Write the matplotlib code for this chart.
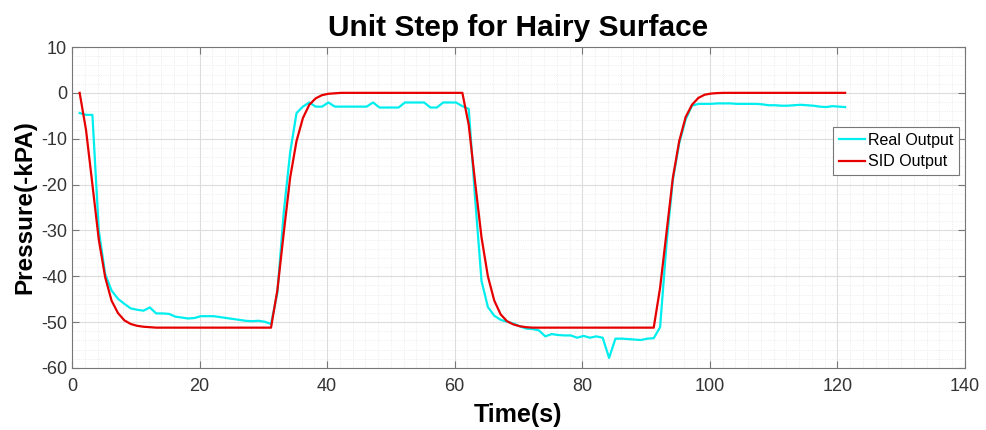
import numpy as np
import matplotlib
matplotlib.use('Agg')
from matplotlib import pyplot as plt
from matplotlib.ticker import MultipleLocator

# Data
# --------------------------------------------------------------------------
# sample time (s), one sample per second
t_start = 1.2
# Real Output (measured pressure, -kPa)
real_output = [
    -4.4, -4.8, -4.8, -30.0, -39.5, -43.1, -44.9, -46.0, -47.0, -47.3,
    -47.5, -46.8, -48.1, -48.1, -48.2, -48.8, -49.0, -49.2, -49.1, -48.7,
    -48.7, -48.7, -48.9, -49.1, -49.3, -49.5, -49.7, -49.8, -49.7, -49.9,
    -50.4, -43.6, -26.0, -13.0, -4.4, -3.0, -2.1, -3.0, -3.0, -2.1,
    -3.0, -3.0, -3.0, -3.0, -3.0, -3.0, -2.1, -3.2, -3.2, -3.2,
    -3.2, -2.1, -2.1, -2.1, -2.1, -3.2, -3.2, -2.1, -2.1, -2.1,
    -2.9, -3.5, -23.0, -41.0, -46.7, -48.6, -49.5, -49.9, -50.3, -50.9,
    -51.4, -51.5, -51.8, -53.1, -52.6, -52.8, -52.9, -52.9, -53.4, -53.0,
    -53.4, -53.1, -53.4, -57.8, -53.6, -53.6, -53.7, -53.8, -53.9, -53.6,
    -53.5, -51.1, -33.0, -19.0, -11.0, -5.8, -2.8, -2.4, -2.4, -2.4,
    -2.3, -2.3, -2.3, -2.4, -2.4, -2.4, -2.4, -2.5, -2.7, -2.7,
    -2.8, -2.8, -2.7, -2.6, -2.7, -2.8, -3.0, -3.1, -2.9, -3.0,
    -3.1,
]
# SID Output (identified model response, -kPa)
sid_output = [
    0.0, -8.1, -20.0, -32.0, -40.2, -45.3, -48.0, -49.6, -50.4, -50.8,
    -51.0, -51.1, -51.2, -51.2, -51.2, -51.2, -51.2, -51.2, -51.2, -51.2,
    -51.2, -51.2, -51.2, -51.2, -51.2, -51.2, -51.2, -51.2, -51.2, -51.2,
    -51.2, -43.0, -30.5, -18.5, -10.5, -5.5, -2.6, -1.2, -0.5, -0.2,
    -0.1, 0.0, 0.0, 0.0, 0.0, 0.0, 0.0, 0.0, 0.0, 0.0,
    0.0, 0.0, 0.0, 0.0, 0.0, 0.0, 0.0, 0.0, 0.0, 0.0,
    0.0, -7.0, -19.5, -31.5, -40.0, -45.3, -48.3, -49.8, -50.5, -50.9,
    -51.1, -51.2, -51.2, -51.2, -51.2, -51.2, -51.2, -51.2, -51.2, -51.2,
    -51.2, -51.2, -51.2, -51.2, -51.2, -51.2, -51.2, -51.2, -51.2, -51.2,
    -51.2, -42.5, -30.5, -18.5, -10.5, -5.3, -2.6, -1.1, -0.4, -0.15,
    -0.05, 0.0, 0.0, 0.0, 0.0, 0.0, 0.0, 0.0, 0.0, 0.0,
    0.0, 0.0, 0.0, 0.0, 0.0, 0.0, 0.0, 0.0, 0.0, 0.0,
    0.0,
]
time = t_start + np.arange(len(real_output))
# --------------------------------------------------------------------------

# Plot
# --------------------------------------------------------------------------
plt.rcParams['font.family'] = ['Liberation Sans', 'DejaVu Sans']
plt.rcParams['axes.unicode_minus'] = False
fig = plt.figure(figsize=(9.87, 4.30), dpi=100)
ax = fig.add_axes([72/987, 1-368/430, (965-72)/987, (368-47)/430])

ax.plot(time, real_output, color='#00eeee', lw=1.6, label='Real Output')
ax.plot(time, sid_output, color='#e60000', lw=1.6, label='SID Output')

ax.set_xlim(0, 140)
ax.set_ylim(-60, 10)
ax.xaxis.set_major_locator(MultipleLocator(20))
ax.xaxis.set_minor_locator(MultipleLocator(2))
ax.yaxis.set_major_locator(MultipleLocator(10))
ax.yaxis.set_minor_locator(MultipleLocator(2))
ax.grid(which='major', color='#dcdcdc', lw=0.8)
ax.grid(which='minor', color='#e6e6e6', lw=0.6, ls=':')
ax.set_axisbelow(True)
ax.tick_params(which='both', direction='in', top=True, right=True,
               labelsize=13, colors='#333333')
ax.tick_params(which='minor', length=0)
ax.tick_params(which='major', length=5, color='#777777')
ax.tick_params(axis='x', which='major', pad=7)
for s in ax.spines.values():
    s.set_color('#777777')

ax.set_title('Unit Step for Hairy Surface', fontsize=21.5, fontweight='bold', pad=8)
ax.set_xlabel('Time(s)', fontsize=18, fontweight='bold', labelpad=6)
ax.set_ylabel('Pressure(-kPA)', fontsize=17.5, fontweight='bold', labelpad=3)

leg = ax.legend(loc='upper right', bbox_to_anchor=(0.993, 0.75), fontsize=11.5,
                fancybox=False, framealpha=1, edgecolor='#777777',
                handlelength=1.6, handletextpad=0.2, borderpad=0.35,
                labelspacing=0.4, borderaxespad=0)
leg.get_frame().set_linewidth(0.8)

fig.savefig('out.png', dpi=100)
